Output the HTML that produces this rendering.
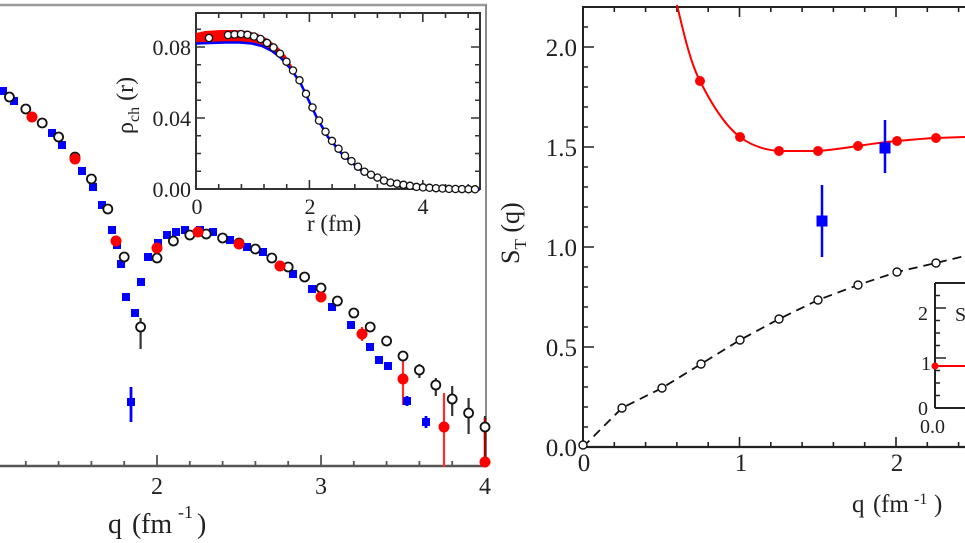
<!DOCTYPE html>
<html><head><meta charset="utf-8"><style>
html,body{margin:0;padding:0;background:#fff;}
svg{display:block;}
text{font-family:"Liberation Serif",serif;fill:#222;}
</style></head><body>
<svg width="965" height="543" viewBox="0 0 965 543" xmlns="http://www.w3.org/2000/svg">
<rect width="965" height="543" fill="#fff"/>

<!-- ============ LEFT PANEL ============ -->
<line x1="0" y1="5" x2="487" y2="5" stroke="#9a9a9a" stroke-width="2.5"/>
<line x1="486" y1="5" x2="486" y2="467" stroke="#8a8a8a" stroke-width="2"/>
<line x1="0" y1="466" x2="487" y2="466" stroke="#555" stroke-width="2.5"/>
<path d="M25.8 466V461 M58.6 466V461 M91.4 466V461 M124.2 466V461 M157 466V455 M189.8 466V461 M222.6 466V461 M255.4 466V461 M288.2 466V461 M321 466V455 M353.8 466V461 M386.6 466V461 M419.4 466V461 M452.2 466V461 M485 466V455" stroke="#555" stroke-width="1.8" fill="none"/>
<g font-size="24" text-anchor="middle">
<text x="157" y="494">2</text><text x="321" y="494">3</text><text x="485" y="494">4</text>
</g>
<text x="108" y="533" font-size="28">q</text>
<text x="132" y="533" font-size="28">(</text>
<text x="141" y="533" font-size="28">fm</text>
<text x="178" y="518" font-size="18">-1</text>
<text x="197" y="533" font-size="28">)</text>

<!-- error bars (left) -->
<g stroke-width="2.2" fill="none">
<path d="M131 387V422" stroke="#0000ff" stroke-width="2.8"/>
<path d="M407 396V406 M426 416V428" stroke="#0000ff" stroke-width="2.8"/>
<path d="M140.6 318V349 M403 352V360 M419.4 364V378 M435.8 378V396 M452.2 386V416 M468.6 398V434 M485 416V440" stroke="#333"/>
<path d="M362 327V341 M403 360V405 M444 393V467" stroke="#ff2a2a"/>
<path d="M485 418V466" stroke="#a00000" stroke-width="2.5"/>
</g>

<!-- blue squares (left) -->
<g fill="#0000ff">
<rect x="-1" y="87" width="8" height="8"/><rect x="10" y="97" width="8" height="8"/>
<rect x="48" y="129" width="8" height="8"/><rect x="58" y="141" width="8" height="8"/>
<rect x="78" y="167" width="8" height="8"/><rect x="89" y="183" width="8" height="8"/>
<rect x="98" y="201" width="8" height="8"/><rect x="108" y="226" width="8" height="8"/>
<rect x="113" y="241" width="8" height="8"/><rect x="117" y="260" width="8" height="8"/>
<rect x="122" y="293" width="8" height="8"/><rect x="131" y="309" width="8" height="8"/>
<rect x="137" y="278" width="8" height="8"/><rect x="127" y="398" width="8" height="8"/>
<rect x="144" y="253" width="8" height="8"/><rect x="154" y="239" width="8" height="8"/>
<rect x="163" y="231" width="8" height="8"/><rect x="172" y="228" width="8" height="8"/>
<rect x="181" y="226" width="8" height="8"/><rect x="196" y="226" width="8" height="8"/>
<rect x="209" y="228" width="8" height="8"/><rect x="226" y="236" width="8" height="8"/>
<rect x="243" y="243" width="8" height="8"/><rect x="259" y="248" width="8" height="8"/>
<rect x="289" y="270" width="8" height="8"/><rect x="308" y="285" width="8" height="8"/>
<rect x="328" y="303" width="8" height="8"/><rect x="347" y="321" width="8" height="8"/>
<rect x="366" y="343" width="8" height="8"/><rect x="375" y="356" width="8" height="8"/>
<rect x="384" y="362" width="8" height="8"/><rect x="403" y="397" width="8" height="8"/>
<rect x="422" y="418" width="8" height="8"/>
</g>

<!-- open circles (left) -->
<g fill="#fff" stroke="#111" stroke-width="1.8">
<circle cx="9.4" cy="97" r="4.5"/><circle cx="25.8" cy="109" r="4.5"/><circle cx="42.2" cy="123" r="4.5"/>
<circle cx="58.6" cy="137" r="4.5"/><circle cx="75" cy="157" r="4.5"/><circle cx="91.4" cy="179" r="4.5"/>
<circle cx="107.8" cy="209" r="4.5"/><circle cx="124.2" cy="257" r="4.5"/><circle cx="140.6" cy="327" r="4.5"/>
<circle cx="157" cy="258" r="4.5"/><circle cx="173.4" cy="241" r="4.5"/><circle cx="189.8" cy="235" r="4.5"/>
<circle cx="206.2" cy="234" r="4.5"/><circle cx="222.6" cy="238" r="4.5"/><circle cx="239" cy="243" r="4.5"/>
<circle cx="255.4" cy="249" r="4.5"/><circle cx="271.8" cy="258" r="4.5"/><circle cx="288.2" cy="267" r="4.5"/>
<circle cx="304.6" cy="277" r="4.5"/><circle cx="321" cy="288" r="4.5"/><circle cx="337.4" cy="301" r="4.5"/>
<circle cx="353.8" cy="313" r="4.5"/><circle cx="370.2" cy="327" r="4.5"/><circle cx="386.6" cy="341" r="4.5"/>
<circle cx="403" cy="356" r="4.5"/><circle cx="419.4" cy="370" r="4.5"/><circle cx="435.8" cy="385" r="4.5"/>
<circle cx="452.2" cy="399" r="4.5"/><circle cx="468.6" cy="413" r="4.5"/><circle cx="485" cy="427" r="4.5"/>
</g>

<!-- red circles (left) -->
<g fill="#ff0000">
<circle cx="32" cy="117" r="5.5"/><circle cx="75" cy="159" r="5.5"/><circle cx="116" cy="241" r="5.5"/>
<circle cx="157" cy="248" r="5.5"/><circle cx="198" cy="232" r="5.5"/><circle cx="239" cy="244" r="5.5"/>
<circle cx="280" cy="266" r="5.5"/><circle cx="321" cy="297" r="5.5"/><circle cx="362" cy="334" r="5.5"/>
<circle cx="403" cy="379" r="5.5"/><circle cx="444" cy="427" r="5.5"/><circle cx="485" cy="462" r="5.5"/>
</g>

<!-- ===== left inset ===== -->
<rect x="196" y="13" width="284" height="176" fill="#fff" stroke="#333" stroke-width="2"/>
<path d="M218.7 189v-5 M241.4 189v-5 M264 189v-5 M286.7 189v-5 M309.4 189v-9 M332.1 189v-5 M354.8 189v-5 M377.4 189v-5 M400.1 189v-5 M422.8 189v-9 M445.5 189v-5 M468.2 189v-5
M218.7 13v5 M241.4 13v5 M264 13v5 M286.7 13v5 M309.4 13v9 M332.1 13v5 M354.8 13v5 M377.4 13v5 M400.1 13v5 M422.8 13v9 M445.5 13v5 M468.2 13v5
M196 171.25h5 M196 153.5h5 M196 135.75h5 M196 118h9 M196 100.25h5 M196 82.5h5 M196 64.75h5 M196 47h9 M196 29.25h5
M480 171.25h-5 M480 153.5h-5 M480 135.75h-5 M480 118h-9 M480 100.25h-5 M480 82.5h-5 M480 64.75h-5 M480 47h-9 M480 29.25h-5" stroke="#333" stroke-width="1.6" fill="none"/>
<path d="M196 33 L205 31 L220 30 L235 30 L248 31 L258 34 L268 39 L278 47 L286 56 L292 66 L292 70 L281 58 L272 51 L262 46 L252 43.5 L240 42.5 L225 42.5 L210 43 L196 43.5 Z" fill="#ff0000"/>
<polyline points="196,43.5 210,43 225,42.5 240,42.5 252,43.5 262,46 272,51 281,58 290,68 300,82 308,99 317,118 328,137 342,154 363,172 387,182.5 417,187.5 450,189 480,189.5" fill="none" stroke="#0000ff" stroke-width="2.6" stroke-linejoin="round"/>
<g fill="#fff" stroke="#111" stroke-width="1.3">
<circle cx="209" cy="38" r="3.6"/><circle cx="228" cy="35" r="3.6"/><circle cx="234.5" cy="34.5" r="3.6"/>
<circle cx="241" cy="34.1" r="3.6"/><circle cx="247.5" cy="34.8" r="3.6"/><circle cx="254" cy="36.5" r="3.6"/>
<circle cx="260.5" cy="39" r="3.6"/><circle cx="267" cy="42.9" r="3.6"/><circle cx="273.5" cy="47.5" r="3.6"/>
<circle cx="280" cy="53.7" r="3.6"/><circle cx="286.5" cy="61.7" r="3.6"/><circle cx="293" cy="70.5" r="3.6"/>
<circle cx="299.5" cy="80.3" r="3.6"/><circle cx="306" cy="93.8" r="3.6"/><circle cx="312.5" cy="107.5" r="3.6"/>
<circle cx="319" cy="120.5" r="3.6"/><circle cx="325.5" cy="131.7" r="3.6"/><circle cx="332" cy="140.9" r="3.6"/>
<circle cx="338.5" cy="148.7" r="3.6"/><circle cx="345" cy="155.7" r="3.6"/><circle cx="351.5" cy="161.1" r="3.6"/>
<circle cx="358" cy="166.7" r="3.6"/><circle cx="364.5" cy="171.7" r="3.6"/><circle cx="371" cy="174.7" r="3.6"/>
<circle cx="377.5" cy="177.6" r="3.6"/><circle cx="384" cy="180.6" r="3.6"/><circle cx="390.5" cy="182.6" r="3.6"/>
<circle cx="397" cy="183.7" r="3.6"/><circle cx="403.5" cy="184.8" r="3.6"/><circle cx="410" cy="185.8" r="3.6"/>
<circle cx="416.5" cy="186.9" r="3.6"/><circle cx="423" cy="187.4" r="3.6"/><circle cx="429.5" cy="187.8" r="3.6"/>
<circle cx="436" cy="188.2" r="3.6"/><circle cx="442.5" cy="188.5" r="3.6"/><circle cx="449" cy="188.9" r="3.6"/>
<circle cx="455.5" cy="189" r="3.6"/><circle cx="462" cy="189.1" r="3.6"/><circle cx="468.5" cy="189.2" r="3.6"/>
<circle cx="475" cy="189.3" r="3.6"/>
</g>
<g font-size="22" text-anchor="end">
<text x="191" y="55">0.08</text><text x="191" y="126">0.04</text><text x="191" y="197">0.00</text>
</g>
<g font-size="22" text-anchor="middle">
<text x="197" y="214">0</text><text x="310" y="214">2</text><text x="423" y="214">4</text>
</g>
<text x="307" y="231" font-size="23">r (fm)</text>
<text transform="translate(133,134) rotate(-90)" font-size="24">ρ<tspan font-size="16" dy="6">ch</tspan><tspan dy="-6"> (r)</tspan></text>

<!-- ============ RIGHT PANEL ============ -->
<line x1="583" y1="7" x2="965" y2="7" stroke="#222" stroke-width="2"/>
<line x1="583" y1="6" x2="583" y2="448" stroke="#222" stroke-width="2"/>
<line x1="582" y1="447" x2="965" y2="447" stroke="#222" stroke-width="2.2"/>
<path d="M583 427h5 M583 407h5 M583 387h5 M583 367h5 M583 347h11 M583 327h5 M583 307h5 M583 287h5 M583 267h5 M583 247h11 M583 227h5 M583 207h5 M583 187h5 M583 167h5 M583 147h11 M583 127h5 M583 107h5 M583 87h5 M583 67h5 M583 47h11 M583 27h5
M614.3 447v-5 M645.6 447v-5 M676.9 447v-5 M708.2 447v-5 M739.5 447v-10 M770.8 447v-5 M802.1 447v-5 M833.4 447v-5 M864.7 447v-5 M896 447v-10 M927.3 447v-5 M958.6 447v-5
M614.3 7v5 M645.6 7v5 M676.9 7v5 M708.2 7v5 M739.5 7v10 M770.8 7v5 M802.1 7v5 M833.4 7v5 M864.7 7v5 M896 7v10 M927.3 7v5 M958.6 7v5" stroke="#222" stroke-width="1.6" fill="none"/>
<g font-size="25" text-anchor="end">
<text x="577" y="56">2.0</text><text x="577" y="156">1.5</text><text x="577" y="256">1.0</text>
<text x="577" y="356">0.5</text><text x="577" y="456">0.0</text>
</g>
<g font-size="25" text-anchor="middle">
<text x="584" y="471">0</text><text x="741" y="471">1</text><text x="897" y="471">2</text>
</g>
<text x="852" y="512" font-size="25">q</text>
<text x="873" y="512" font-size="25">(</text>
<text x="881" y="512" font-size="25">fm</text>
<text x="914" y="504" font-size="16">-1</text>
<text x="934" y="512" font-size="25">)</text>
<text transform="translate(519,264) rotate(-90)" font-size="26">S<tspan font-size="17" dy="7">T</tspan><tspan dy="-7"> (q)</tspan></text>

<!-- red curve -->
<path d="M677,5 C683,30 690,62 700,81 C709,99 724,125 740,137 C752,146 765,150 779,151 L818,151 C831,150 845,148 858,146 C871,144 884,142 897,141 C910,140 923,138.5 936,138 L965,137" fill="none" stroke="#ff0000" stroke-width="2"/>
<g fill="#ff0000">
<circle cx="700" cy="81" r="5"/><circle cx="740" cy="137" r="5"/><circle cx="779" cy="151" r="5"/>
<circle cx="818" cy="151" r="5"/><circle cx="858" cy="146" r="5"/><circle cx="897" cy="141" r="5"/>
<circle cx="936" cy="138" r="5"/>
</g>
<!-- blue squares right -->
<path d="M822 185V257 M885 120V173" stroke="#0000ff" stroke-width="2.5"/>
<rect x="816.5" y="215.5" width="11" height="11" fill="#0000ff"/>
<rect x="879.5" y="142.5" width="11" height="11" fill="#0000ff"/>

<!-- dashed black -->
<polyline points="583,447 622,408 662,388 701,364 740,340 779,319 818,300 858,285 897,272 936,263 965,256" fill="none" stroke="#111" stroke-width="1.8" stroke-dasharray="9,6"/>
<g fill="#fff" stroke="#111" stroke-width="1.4">
<circle cx="583" cy="445" r="4"/><circle cx="622" cy="408" r="4"/><circle cx="662" cy="388" r="4"/>
<circle cx="701" cy="364" r="4"/><circle cx="740" cy="340" r="4"/><circle cx="779" cy="319" r="4"/>
<circle cx="818" cy="300" r="4"/><circle cx="858" cy="285" r="4"/><circle cx="897" cy="272" r="4"/>
<circle cx="936" cy="263" r="4"/>
</g>

<!-- right inset -->
<rect x="935" y="283" width="40" height="125" fill="#fff"/>
<path d="M935 283V408 M935 283H965 M935 408H965" stroke="#222" stroke-width="2" fill="none"/>
<path d="M935 308h11 M935 358h11 M935 295.5h5 M935 320.5h5 M935 333h5 M935 345.5h5 M935 370.5h5 M935 383h5 M935 395.5h5" stroke="#222" stroke-width="1.5" fill="none"/>
<line x1="935" y1="366" x2="965" y2="366" stroke="#ff0000" stroke-width="2"/>
<circle cx="935" cy="366" r="3.5" fill="#ff0000"/>
<g font-size="20" text-anchor="middle">
<text x="923" y="320">2</text><text x="926" y="370">1</text><text x="923" y="415">0</text>
</g>
<text x="920" y="433" font-size="20">0.0</text>
<text x="955" y="321" font-size="20">S</text>
</svg>
</body></html>
